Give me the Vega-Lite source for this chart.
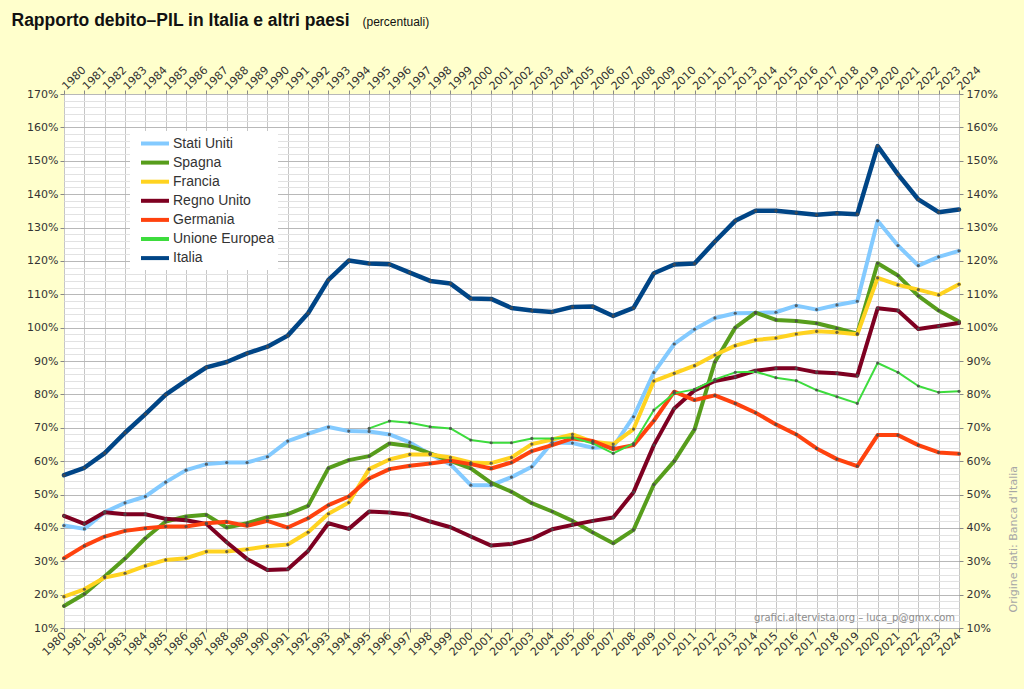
{
  "$schema": "https://vega.github.io/schema/vega-lite/v6.json",
  "autosize": "none",
  "width": 895,
  "height": 534,
  "padding": {"left": 64, "top": 94, "right": 65, "bottom": 61},
  "background": "#ffffcc",
  "config": {
    "view": {"fill": "white", "stroke": "#a0a0a0", "strokeWidth": 1},
    "axis": {
      "labelFont": "DejaVu Sans",
      "labelFontSize": 11,
      "labelColor": "#333333",
      "tickColor": "#888888",
      "domain": false,
      "labelOverlap": false,
      "labelBound": false,
      "labelFlush": false
    }
  },
  "datasets": {
    "debito": [
      {"anno": 1980, "paese": "Stati Uniti", "valore": 40.7},
      {"anno": 1981, "paese": "Stati Uniti", "valore": 39.7},
      {"anno": 1982, "paese": "Stati Uniti", "valore": 44.7},
      {"anno": 1983, "paese": "Stati Uniti", "valore": 47.5},
      {"anno": 1984, "paese": "Stati Uniti", "valore": 49.4},
      {"anno": 1985, "paese": "Stati Uniti", "valore": 53.7},
      {"anno": 1986, "paese": "Stati Uniti", "valore": 57.3},
      {"anno": 1987, "paese": "Stati Uniti", "valore": 59.1},
      {"anno": 1988, "paese": "Stati Uniti", "valore": 59.6},
      {"anno": 1989, "paese": "Stati Uniti", "valore": 59.6},
      {"anno": 1990, "paese": "Stati Uniti", "valore": 61.3},
      {"anno": 1991, "paese": "Stati Uniti", "valore": 66.0},
      {"anno": 1992, "paese": "Stati Uniti", "valore": 68.2},
      {"anno": 1993, "paese": "Stati Uniti", "valore": 70.2},
      {"anno": 1994, "paese": "Stati Uniti", "valore": 69.0},
      {"anno": 1995, "paese": "Stati Uniti", "valore": 68.9},
      {"anno": 1996, "paese": "Stati Uniti", "valore": 68.0},
      {"anno": 1997, "paese": "Stati Uniti", "valore": 65.6},
      {"anno": 1998, "paese": "Stati Uniti", "valore": 62.1},
      {"anno": 1999, "paese": "Stati Uniti", "valore": 59.0},
      {"anno": 2000, "paese": "Stati Uniti", "valore": 52.8},
      {"anno": 2001, "paese": "Stati Uniti", "valore": 52.8},
      {"anno": 2002, "paese": "Stati Uniti", "valore": 55.2},
      {"anno": 2003, "paese": "Stati Uniti", "valore": 58.3},
      {"anno": 2004, "paese": "Stati Uniti", "valore": 65.6},
      {"anno": 2005, "paese": "Stati Uniti", "valore": 65.4},
      {"anno": 2006, "paese": "Stati Uniti", "valore": 64.0},
      {"anno": 2007, "paese": "Stati Uniti", "valore": 64.3},
      {"anno": 2008, "paese": "Stati Uniti", "valore": 73.3},
      {"anno": 2009, "paese": "Stati Uniti", "valore": 86.5},
      {"anno": 2010, "paese": "Stati Uniti", "valore": 95.1},
      {"anno": 2011, "paese": "Stati Uniti", "valore": 99.5},
      {"anno": 2012, "paese": "Stati Uniti", "valore": 102.9},
      {"anno": 2013, "paese": "Stati Uniti", "valore": 104.3},
      {"anno": 2014, "paese": "Stati Uniti", "valore": 104.4},
      {"anno": 2015, "paese": "Stati Uniti", "valore": 104.6},
      {"anno": 2016, "paese": "Stati Uniti", "valore": 106.6},
      {"anno": 2017, "paese": "Stati Uniti", "valore": 105.4},
      {"anno": 2018, "paese": "Stati Uniti", "valore": 106.8},
      {"anno": 2019, "paese": "Stati Uniti", "valore": 107.9},
      {"anno": 2020, "paese": "Stati Uniti", "valore": 132.0},
      {"anno": 2021, "paese": "Stati Uniti", "valore": 124.6},
      {"anno": 2022, "paese": "Stati Uniti", "valore": 118.6},
      {"anno": 2023, "paese": "Stati Uniti", "valore": 121.2},
      {"anno": 2024, "paese": "Stati Uniti", "valore": 123.0},

      {"anno": 1980, "paese": "Spagna", "valore": 16.6},
      {"anno": 1981, "paese": "Spagna", "valore": 20.2},
      {"anno": 1982, "paese": "Spagna", "valore": 25.4},
      {"anno": 1983, "paese": "Spagna", "valore": 30.8},
      {"anno": 1984, "paese": "Spagna", "valore": 36.9},
      {"anno": 1985, "paese": "Spagna", "valore": 41.9},
      {"anno": 1986, "paese": "Spagna", "valore": 43.4},
      {"anno": 1987, "paese": "Spagna", "valore": 43.9},
      {"anno": 1988, "paese": "Spagna", "valore": 40.1},
      {"anno": 1989, "paese": "Spagna", "valore": 41.4},
      {"anno": 1990, "paese": "Spagna", "valore": 43.2},
      {"anno": 1991, "paese": "Spagna", "valore": 44.1},
      {"anno": 1992, "paese": "Spagna", "valore": 46.6},
      {"anno": 1993, "paese": "Spagna", "valore": 57.9},
      {"anno": 1994, "paese": "Spagna", "valore": 60.3},
      {"anno": 1995, "paese": "Spagna", "valore": 61.5},
      {"anno": 1996, "paese": "Spagna", "valore": 65.3},
      {"anno": 1997, "paese": "Spagna", "valore": 64.5},
      {"anno": 1998, "paese": "Spagna", "valore": 62.3},
      {"anno": 1999, "paese": "Spagna", "valore": 60.1},
      {"anno": 2000, "paese": "Spagna", "valore": 57.8},
      {"anno": 2001, "paese": "Spagna", "valore": 53.5},
      {"anno": 2002, "paese": "Spagna", "valore": 50.8},
      {"anno": 2003, "paese": "Spagna", "valore": 47.4},
      {"anno": 2004, "paese": "Spagna", "valore": 44.9},
      {"anno": 2005, "paese": "Spagna", "valore": 42.1},
      {"anno": 2006, "paese": "Spagna", "valore": 38.6},
      {"anno": 2007, "paese": "Spagna", "valore": 35.4},
      {"anno": 2008, "paese": "Spagna", "valore": 39.4},
      {"anno": 2009, "paese": "Spagna", "valore": 53.0},
      {"anno": 2010, "paese": "Spagna", "valore": 60.0},
      {"anno": 2011, "paese": "Spagna", "valore": 69.5},
      {"anno": 2012, "paese": "Spagna", "valore": 89.7},
      {"anno": 2013, "paese": "Spagna", "valore": 100.0},
      {"anno": 2014, "paese": "Spagna", "valore": 104.5},
      {"anno": 2015, "paese": "Spagna", "valore": 102.3},
      {"anno": 2016, "paese": "Spagna", "valore": 102.0},
      {"anno": 2017, "paese": "Spagna", "valore": 101.3},
      {"anno": 2018, "paese": "Spagna", "valore": 99.8},
      {"anno": 2019, "paese": "Spagna", "valore": 98.2},
      {"anno": 2020, "paese": "Spagna", "valore": 119.3},
      {"anno": 2021, "paese": "Spagna", "valore": 115.6},
      {"anno": 2022, "paese": "Spagna", "valore": 109.5},
      {"anno": 2023, "paese": "Spagna", "valore": 105.1},
      {"anno": 2024, "paese": "Spagna", "valore": 101.8},

      {"anno": 1980, "paese": "Francia", "valore": 19.4},
      {"anno": 1981, "paese": "Francia", "valore": 21.6},
      {"anno": 1982, "paese": "Francia", "valore": 25.1},
      {"anno": 1983, "paese": "Francia", "valore": 26.4},
      {"anno": 1984, "paese": "Francia", "valore": 28.6},
      {"anno": 1985, "paese": "Francia", "valore": 30.4},
      {"anno": 1986, "paese": "Francia", "valore": 30.9},
      {"anno": 1987, "paese": "Francia", "valore": 32.9},
      {"anno": 1988, "paese": "Francia", "valore": 32.9},
      {"anno": 1989, "paese": "Francia", "valore": 33.6},
      {"anno": 1990, "paese": "Francia", "valore": 34.5},
      {"anno": 1991, "paese": "Francia", "valore": 35.0},
      {"anno": 1992, "paese": "Francia", "valore": 38.7},
      {"anno": 1993, "paese": "Francia", "valore": 44.2},
      {"anno": 1994, "paese": "Francia", "valore": 47.6},
      {"anno": 1995, "paese": "Francia", "valore": 57.6},
      {"anno": 1996, "paese": "Francia", "valore": 60.5},
      {"anno": 1997, "paese": "Francia", "valore": 62.0},
      {"anno": 1998, "paese": "Francia", "valore": 62.0},
      {"anno": 1999, "paese": "Francia", "valore": 61.1},
      {"anno": 2000, "paese": "Francia", "valore": 59.6},
      {"anno": 2001, "paese": "Francia", "valore": 59.4},
      {"anno": 2002, "paese": "Francia", "valore": 61.1},
      {"anno": 2003, "paese": "Francia", "valore": 65.1},
      {"anno": 2004, "paese": "Francia", "valore": 66.5},
      {"anno": 2005, "paese": "Francia", "valore": 68.0},
      {"anno": 2006, "paese": "Francia", "valore": 65.8},
      {"anno": 2007, "paese": "Francia", "valore": 65.1},
      {"anno": 2008, "paese": "Francia", "valore": 69.6},
      {"anno": 2009, "paese": "Francia", "valore": 84.0},
      {"anno": 2010, "paese": "Francia", "valore": 86.3},
      {"anno": 2011, "paese": "Francia", "valore": 88.6},
      {"anno": 2012, "paese": "Francia", "valore": 91.8},
      {"anno": 2013, "paese": "Francia", "valore": 94.6},
      {"anno": 2014, "paese": "Francia", "valore": 96.3},
      {"anno": 2015, "paese": "Francia", "valore": 96.9},
      {"anno": 2016, "paese": "Francia", "valore": 98.1},
      {"anno": 2017, "paese": "Francia", "valore": 98.9},
      {"anno": 2018, "paese": "Francia", "valore": 98.6},
      {"anno": 2019, "paese": "Francia", "valore": 98.0},
      {"anno": 2020, "paese": "Francia", "valore": 114.9},
      {"anno": 2021, "paese": "Francia", "valore": 112.8},
      {"anno": 2022, "paese": "Francia", "valore": 111.4},
      {"anno": 2023, "paese": "Francia", "valore": 109.8},
      {"anno": 2024, "paese": "Francia", "valore": 113.0},

      {"anno": 1980, "paese": "Regno Unito", "valore": 43.6},
      {"anno": 1981, "paese": "Regno Unito", "valore": 41.2},
      {"anno": 1982, "paese": "Regno Unito", "valore": 44.7},
      {"anno": 1983, "paese": "Regno Unito", "valore": 44.1},
      {"anno": 1984, "paese": "Regno Unito", "valore": 44.1},
      {"anno": 1985, "paese": "Regno Unito", "valore": 42.7},
      {"anno": 1986, "paese": "Regno Unito", "valore": 42.3},
      {"anno": 1987, "paese": "Regno Unito", "valore": 41.2},
      {"anno": 1988, "paese": "Regno Unito", "valore": 35.7},
      {"anno": 1989, "paese": "Regno Unito", "valore": 30.7},
      {"anno": 1990, "paese": "Regno Unito", "valore": 27.4},
      {"anno": 1991, "paese": "Regno Unito", "valore": 27.6},
      {"anno": 1992, "paese": "Regno Unito", "valore": 33.1},
      {"anno": 1993, "paese": "Regno Unito", "valore": 41.4},
      {"anno": 1994, "paese": "Regno Unito", "valore": 39.7},
      {"anno": 1995, "paese": "Regno Unito", "valore": 44.9},
      {"anno": 1996, "paese": "Regno Unito", "valore": 44.6},
      {"anno": 1997, "paese": "Regno Unito", "valore": 43.9},
      {"anno": 1998, "paese": "Regno Unito", "valore": 41.9},
      {"anno": 1999, "paese": "Regno Unito", "valore": 40.2},
      {"anno": 2000, "paese": "Regno Unito", "valore": 37.4},
      {"anno": 2001, "paese": "Regno Unito", "valore": 34.7},
      {"anno": 2002, "paese": "Regno Unito", "valore": 35.2},
      {"anno": 2003, "paese": "Regno Unito", "valore": 36.7},
      {"anno": 2004, "paese": "Regno Unito", "valore": 39.6},
      {"anno": 2005, "paese": "Regno Unito", "valore": 40.9},
      {"anno": 2006, "paese": "Regno Unito", "valore": 42.1},
      {"anno": 2007, "paese": "Regno Unito", "valore": 43.1},
      {"anno": 2008, "paese": "Regno Unito", "valore": 50.7},
      {"anno": 2009, "paese": "Regno Unito", "valore": 64.8},
      {"anno": 2010, "paese": "Regno Unito", "valore": 75.8},
      {"anno": 2011, "paese": "Regno Unito", "valore": 81.2},
      {"anno": 2012, "paese": "Regno Unito", "valore": 84.0},
      {"anno": 2013, "paese": "Regno Unito", "valore": 85.2},
      {"anno": 2014, "paese": "Regno Unito", "valore": 87.1},
      {"anno": 2015, "paese": "Regno Unito", "valore": 87.8},
      {"anno": 2016, "paese": "Regno Unito", "valore": 87.8},
      {"anno": 2017, "paese": "Regno Unito", "valore": 86.6},
      {"anno": 2018, "paese": "Regno Unito", "valore": 86.3},
      {"anno": 2019, "paese": "Regno Unito", "valore": 85.6},
      {"anno": 2020, "paese": "Regno Unito", "valore": 105.8},
      {"anno": 2021, "paese": "Regno Unito", "valore": 105.1},
      {"anno": 2022, "paese": "Regno Unito", "valore": 99.6},
      {"anno": 2023, "paese": "Regno Unito", "valore": 100.5},
      {"anno": 2024, "paese": "Regno Unito", "valore": 101.4},

      {"anno": 1980, "paese": "Germania", "valore": 30.9},
      {"anno": 1981, "paese": "Germania", "valore": 34.6},
      {"anno": 1982, "paese": "Germania", "valore": 37.4},
      {"anno": 1983, "paese": "Germania", "valore": 39.1},
      {"anno": 1984, "paese": "Germania", "valore": 39.9},
      {"anno": 1985, "paese": "Germania", "valore": 40.4},
      {"anno": 1986, "paese": "Germania", "valore": 40.4},
      {"anno": 1987, "paese": "Germania", "valore": 41.4},
      {"anno": 1988, "paese": "Germania", "valore": 41.8},
      {"anno": 1989, "paese": "Germania", "valore": 40.6},
      {"anno": 1990, "paese": "Germania", "valore": 42.1},
      {"anno": 1991, "paese": "Germania", "valore": 40.1},
      {"anno": 1992, "paese": "Germania", "valore": 42.9},
      {"anno": 1993, "paese": "Germania", "valore": 46.8},
      {"anno": 1994, "paese": "Germania", "valore": 49.4},
      {"anno": 1995, "paese": "Germania", "valore": 54.8},
      {"anno": 1996, "paese": "Germania", "valore": 57.6},
      {"anno": 1997, "paese": "Germania", "valore": 58.6},
      {"anno": 1998, "paese": "Germania", "valore": 59.3},
      {"anno": 1999, "paese": "Germania", "valore": 60.1},
      {"anno": 2000, "paese": "Germania", "valore": 59.1},
      {"anno": 2001, "paese": "Germania", "valore": 57.8},
      {"anno": 2002, "paese": "Germania", "valore": 59.6},
      {"anno": 2003, "paese": "Germania", "valore": 63.0},
      {"anno": 2004, "paese": "Germania", "valore": 64.8},
      {"anno": 2005, "paese": "Germania", "valore": 66.8},
      {"anno": 2006, "paese": "Germania", "valore": 66.0},
      {"anno": 2007, "paese": "Germania", "valore": 63.6},
      {"anno": 2008, "paese": "Germania", "valore": 64.8},
      {"anno": 2009, "paese": "Germania", "valore": 72.1},
      {"anno": 2010, "paese": "Germania", "valore": 80.8},
      {"anno": 2011, "paese": "Germania", "valore": 78.3},
      {"anno": 2012, "paese": "Germania", "valore": 79.7},
      {"anno": 2013, "paese": "Germania", "valore": 77.3},
      {"anno": 2014, "paese": "Germania", "valore": 74.5},
      {"anno": 2015, "paese": "Germania", "valore": 71.0},
      {"anno": 2016, "paese": "Germania", "valore": 68.0},
      {"anno": 2017, "paese": "Germania", "valore": 63.8},
      {"anno": 2018, "paese": "Germania", "valore": 60.6},
      {"anno": 2019, "paese": "Germania", "valore": 58.5},
      {"anno": 2020, "paese": "Germania", "valore": 67.8},
      {"anno": 2021, "paese": "Germania", "valore": 67.8},
      {"anno": 2022, "paese": "Germania", "valore": 64.8},
      {"anno": 2023, "paese": "Germania", "valore": 62.6},
      {"anno": 2024, "paese": "Germania", "valore": 62.2},

      {"anno": 1995, "paese": "Unione Europea", "valore": 69.8},
      {"anno": 1996, "paese": "Unione Europea", "valore": 72.0},
      {"anno": 1997, "paese": "Unione Europea", "valore": 71.5},
      {"anno": 1998, "paese": "Unione Europea", "valore": 70.3},
      {"anno": 1999, "paese": "Unione Europea", "valore": 69.8},
      {"anno": 2000, "paese": "Unione Europea", "valore": 66.3},
      {"anno": 2001, "paese": "Unione Europea", "valore": 65.5},
      {"anno": 2002, "paese": "Unione Europea", "valore": 65.5},
      {"anno": 2003, "paese": "Unione Europea", "valore": 66.8},
      {"anno": 2004, "paese": "Unione Europea", "valore": 66.8},
      {"anno": 2005, "paese": "Unione Europea", "valore": 67.1},
      {"anno": 2006, "paese": "Unione Europea", "valore": 65.3},
      {"anno": 2007, "paese": "Unione Europea", "valore": 62.3},
      {"anno": 2008, "paese": "Unione Europea", "valore": 65.3},
      {"anno": 2009, "paese": "Unione Europea", "valore": 75.3},
      {"anno": 2010, "paese": "Unione Europea", "valore": 80.3},
      {"anno": 2011, "paese": "Unione Europea", "valore": 81.5},
      {"anno": 2012, "paese": "Unione Europea", "valore": 84.5},
      {"anno": 2013, "paese": "Unione Europea", "valore": 86.6},
      {"anno": 2014, "paese": "Unione Europea", "valore": 86.8},
      {"anno": 2015, "paese": "Unione Europea", "valore": 85.0},
      {"anno": 2016, "paese": "Unione Europea", "valore": 84.1},
      {"anno": 2017, "paese": "Unione Europea", "valore": 81.3},
      {"anno": 2018, "paese": "Unione Europea", "valore": 79.3},
      {"anno": 2019, "paese": "Unione Europea", "valore": 77.3},
      {"anno": 2020, "paese": "Unione Europea", "valore": 89.4},
      {"anno": 2021, "paese": "Unione Europea", "valore": 86.6},
      {"anno": 2022, "paese": "Unione Europea", "valore": 82.5},
      {"anno": 2023, "paese": "Unione Europea", "valore": 80.6},
      {"anno": 2024, "paese": "Unione Europea", "valore": 80.9},

      {"anno": 1980, "paese": "Italia", "valore": 55.8},
      {"anno": 1981, "paese": "Italia", "valore": 58.0},
      {"anno": 1982, "paese": "Italia", "valore": 62.4},
      {"anno": 1983, "paese": "Italia", "valore": 68.5},
      {"anno": 1984, "paese": "Italia", "valore": 74.1},
      {"anno": 1985, "paese": "Italia", "valore": 79.9},
      {"anno": 1986, "paese": "Italia", "valore": 84.1},
      {"anno": 1987, "paese": "Italia", "valore": 88.1},
      {"anno": 1988, "paese": "Italia", "valore": 89.7},
      {"anno": 1989, "paese": "Italia", "valore": 92.3},
      {"anno": 1990, "paese": "Italia", "valore": 94.3},
      {"anno": 1991, "paese": "Italia", "valore": 97.6},
      {"anno": 1992, "paese": "Italia", "valore": 104.3},
      {"anno": 1993, "paese": "Italia", "valore": 114.3},
      {"anno": 1994, "paese": "Italia", "valore": 120.1},
      {"anno": 1995, "paese": "Italia", "valore": 119.2},
      {"anno": 1996, "paese": "Italia", "valore": 119.0},
      {"anno": 1997, "paese": "Italia", "valore": 116.5},
      {"anno": 1998, "paese": "Italia", "valore": 114.0},
      {"anno": 1999, "paese": "Italia", "valore": 113.2},
      {"anno": 2000, "paese": "Italia", "valore": 108.7},
      {"anno": 2001, "paese": "Italia", "valore": 108.6},
      {"anno": 2002, "paese": "Italia", "valore": 105.9},
      {"anno": 2003, "paese": "Italia", "valore": 105.1},
      {"anno": 2004, "paese": "Italia", "valore": 104.7},
      {"anno": 2005, "paese": "Italia", "valore": 106.2},
      {"anno": 2006, "paese": "Italia", "valore": 106.3},
      {"anno": 2007, "paese": "Italia", "valore": 103.5},
      {"anno": 2008, "paese": "Italia", "valore": 105.9},
      {"anno": 2009, "paese": "Italia", "valore": 116.3},
      {"anno": 2010, "paese": "Italia", "valore": 118.9},
      {"anno": 2011, "paese": "Italia", "valore": 119.2},
      {"anno": 2012, "paese": "Italia", "valore": 125.8},
      {"anno": 2013, "paese": "Italia", "valore": 132.0},
      {"anno": 2014, "paese": "Italia", "valore": 135.0},
      {"anno": 2015, "paese": "Italia", "valore": 135.0},
      {"anno": 2016, "paese": "Italia", "valore": 134.4},
      {"anno": 2017, "paese": "Italia", "valore": 133.8},
      {"anno": 2018, "paese": "Italia", "valore": 134.3},
      {"anno": 2019, "paese": "Italia", "valore": 134.0},
      {"anno": 2020, "paese": "Italia", "valore": 154.4},
      {"anno": 2021, "paese": "Italia", "valore": 145.9},
      {"anno": 2022, "paese": "Italia", "valore": 138.4},
      {"anno": 2023, "paese": "Italia", "valore": 134.6},
      {"anno": 2024, "paese": "Italia", "valore": 135.4}
    ]
  },
  "resolve": {"axis": {"x": "independent", "y": "independent"}},
  "layer": [
    {
      "data": {"name": "debito"},
      "mark": {"type": "line", "strokeJoin": "round", "strokeCap": "round"},
      "encoding": {
        "x": {
          "field": "anno",
          "type": "quantitative",
          "scale": {"domain": [1980, 2024], "nice": false, "zero": false},
          "axis": {
            "orient": "bottom",
            "title": null,
            "values": [1980, 1981, 1982, 1983, 1984, 1985, 1986, 1987, 1988, 1989, 1990, 1991, 1992, 1993, 1994, 1995, 1996, 1997, 1998, 1999, 2000, 2001, 2002, 2003, 2004, 2005, 2006, 2007, 2008, 2009, 2010, 2011, 2012, 2013, 2014, 2015, 2016, 2017, 2018, 2019, 2020, 2021, 2022, 2023, 2024],
            "format": "d",
            "labelAngle": -45,
            "labelAlign": "right",
            "labelBaseline": "middle",
            "labelPadding": 2,
            "tickSize": 4,
            "grid": true,
            "gridColor": "#c6c6c6"
          }
        },
        "y": {
          "field": "valore",
          "type": "quantitative",
          "scale": {"domain": [10, 170], "nice": false, "zero": false},
          "axis": {
            "orient": "left",
            "title": "Rapporto debito–PIL in Italia e altri paesi",
            "titleAngle": 0,
            "titleX": -53,
            "titleY": -69,
            "titleAlign": "left",
            "titleBaseline": "alphabetic",
            "titleFont": "Liberation Sans",
            "titleFontSize": 17.5,
            "titleFontWeight": "bold",
            "titleColor": "#111111",
            "values": [10, 12, 14, 16, 18, 20, 22, 24, 26, 28, 30, 32, 34, 36, 38, 40, 42, 44, 46, 48, 50, 52, 54, 56, 58, 60, 62, 64, 66, 68, 70, 72, 74, 76, 78, 80, 82, 84, 86, 88, 90, 92, 94, 96, 98, 100, 102, 104, 106, 108, 110, 112, 114, 116, 118, 120, 122, 124, 126, 128, 130, 132, 134, 136, 138, 140, 142, 144, 146, 148, 150, 152, 154, 156, 158, 160, 162, 164, 166, 168, 170],
            "labelExpr": "datum.value % 10 === 0 ? datum.value + '%' : ''",
            "labelPadding": 2,
            "tickSize": 4,
            "tickOpacity": {"condition": {"test": "datum.value % 10 === 0", "value": 1}, "value": 0},
            "grid": true,
            "gridColor": {"condition": {"test": "datum.value % 10 === 0", "value": "#b8b8b8"}, "value": "#e2e2e2"}
          }
        },
        "color": {
          "field": "paese",
          "type": "nominal",
          "scale": {
            "domain": ["Stati Uniti", "Spagna", "Francia", "Regno Unito", "Germania", "Unione Europea", "Italia"],
            "range": ["#83caff", "#579d1c", "#ffd320", "#7e0021", "#ff420e", "#3ddc3d", "#004586"]
          },
          "legend": {
            "title": null,
            "orient": "none",
            "direction": "vertical",
            "legendX": 66,
            "legendY": 37,
            "padding": 3,
            "fillColor": "white",
            "symbolType": "M-1.87,0H1.87",
            "symbolSize": 225,
            "symbolStrokeWidth": 4,
            "symbolOffset": 12.5,
            "symbolOpacity": 1,
            "rowPadding": 1.1,
            "labelOffset": 8.5,
            "labelFont": "Liberation Sans",
            "labelFontSize": 14,
            "labelColor": "#333333"
          }
        },
        "strokeWidth": {
          "condition": [
            {"test": "datum.paese === 'Unione Europea'", "value": 2},
            {"test": "datum.paese === 'Italia'", "value": 4.5}
          ],
          "value": 4
        }
      }
    },
    {
      "data": {"name": "debito"},
      "mark": {"type": "point", "filled": true, "size": 10, "color": "#4a4a4a", "opacity": 0.85},
      "encoding": {
        "x": {
          "field": "anno",
          "type": "quantitative",
          "axis": {
            "orient": "top",
            "title": "(percentuali)",
            "titleX": 298,
            "titleY": -69,
            "titleAlign": "left",
            "titleBaseline": "alphabetic",
            "titleFont": "Liberation Sans",
            "titleFontSize": 12,
            "titleFontWeight": "normal",
            "titleColor": "#111111",
            "values": [1980, 1981, 1982, 1983, 1984, 1985, 1986, 1987, 1988, 1989, 1990, 1991, 1992, 1993, 1994, 1995, 1996, 1997, 1998, 1999, 2000, 2001, 2002, 2003, 2004, 2005, 2006, 2007, 2008, 2009, 2010, 2011, 2012, 2013, 2014, 2015, 2016, 2017, 2018, 2019, 2020, 2021, 2022, 2023, 2024],
            "format": "d",
            "labelAngle": -45,
            "labelAlign": "left",
            "labelBaseline": "middle",
            "labelPadding": 2,
            "tickSize": 4,
            "grid": false
          }
        },
        "y": {
          "field": "valore",
          "type": "quantitative",
          "axis": {
            "orient": "right",
            "title": "Origine dati: Banca d'Italia",
            "titleAngle": -90,
            "titleX": 54,
            "titleY": 518,
            "titleAlign": "left",
            "titleBaseline": "middle",
            "titleFont": "DejaVu Sans",
            "titleFontSize": 11,
            "titleFontWeight": "normal",
            "titleColor": "#a6a6a6",
            "values": [10, 20, 30, 40, 50, 60, 70, 80, 90, 100, 110, 120, 130, 140, 150, 160, 170],
            "labelExpr": "datum.value + '%'",
            "labelPadding": 3,
            "tickSize": 4,
            "grid": false
          }
        }
      }
    },
    {
      "data": {"values": [{"firma": "grafici.altervista.org – luca_p@gmx.com"}]},
      "mark": {
        "type": "text",
        "align": "right",
        "baseline": "bottom",
        "dx": -4,
        "dy": -5,
        "font": "DejaVu Sans",
        "fontSize": 10,
        "color": "#8c8c8c"
      },
      "encoding": {
        "x": {"datum": 2024, "type": "quantitative", "axis": null},
        "y": {"datum": 10, "type": "quantitative", "axis": null},
        "text": {"field": "firma", "type": "nominal"}
      }
    }
  ]
}
